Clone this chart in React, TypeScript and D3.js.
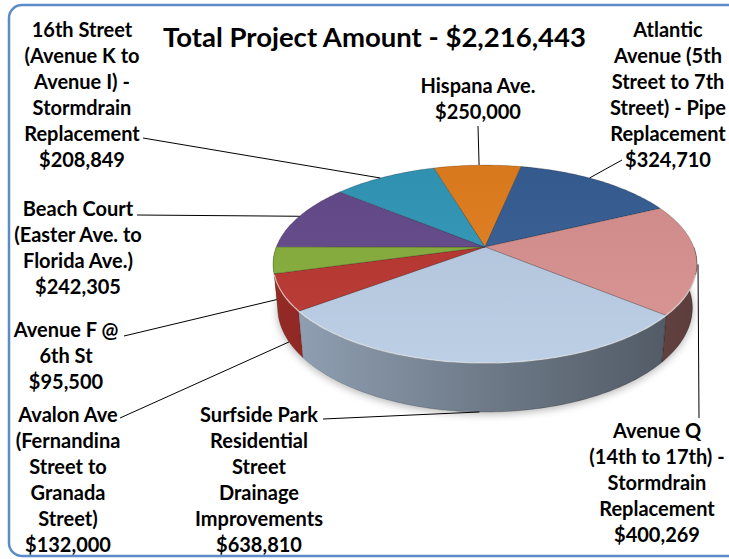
import React from "react";
import * as d3 from "d3";

// ---------- data ----------
const categories = [
  "Hispana Ave.",
  "Atlantic Avenue (5th Street to 7th Street) - Pipe Replacement",
  "Avenue Q (14th to 17th) - Stormdrain Replacement",
  "Surfside Park Residential Street Drainage Improvements",
  "Avalon Ave (Fernandina Street to Granada Street)",
  "Avenue F @ 6th St",
  "Beach Court (Easter Ave. to Florida Ave.)",
  "16th Street (Avenue K to Avenue I) - Stormdrain Replacement",
];
const labelLines = [
  ["Hispana Ave."],
  ["Atlantic", "Avenue (5th", "Street to 7th", "Street) - Pipe", "Replacement"],
  ["Avenue Q", "(14th to 17th) -", "Stormdrain", "Replacement"],
  ["Surfside Park", "Residential", "Street", "Drainage", "Improvements"],
  ["Avalon Ave", "(Fernandina", "Street to", "Granada", "Street)"],
  ["Avenue F @", "6th St"],
  ["Beach Court", "(Easter Ave. to", "Florida Ave.)"],
  ["16th Street", "(Avenue K to", "Avenue I) -", "Stormdrain", "Replacement"],
];
// amounts printed in the labels
const labelValues = [250000, 324710, 400269, 638810, 132000, 95500, 242305, 208849];
// amounts as drawn by the slices (the Hispana slice is drawn smaller than its label; slices sum to the total)
const sliceValues = [174000, 324710, 400269, 638810, 132000, 95500, 242305, 208849];
const totalAmount = 2216443;
const titlePrefix = "Total Project Amount - ";

// ---------- styles ----------
const sliceColors = ["#E6801F", "#375F96", "#D8918F", "#B8CCE4", "#BA342F", "#86AE3A", "#654A8D", "#3299BA"];

// label layout: text centre / first baseline, leader start, anchor position in slice
const labelLayout = [
  { x: 478, y: 93, sx: 478, sy: 126, frac: 0.52, level: 0 },
  { x: 668, y: 37, sx: 622, sy: 160, frac: 0.44, level: 0 },
  { x: 657, y: 438, sx: 699, sy: 418, frac: 0.55, level: 0 },
  { x: 259, y: 422, sx: 323, sy: 419, frac: 0.5, level: 1 },
  { x: 68, y: 422, sx: 120, sy: 418, frac: 0.41, level: 1 },
  { x: 66, y: 337, sx: 124, sy: 336, frac: 0.35, level: 0.8 },
  { x: 78, y: 216, sx: 137, sy: 215, frac: 0.5, level: 0 },
  { x: 82, y: 37, sx: 143, sy: 138, frac: 0.46, level: 0 },
];

const W = 729;
const H = 559;
// perspective camera
const CX = 485;
const CY = 247;
const FOC = 1077;
const DIST = 5.16;
const SIN_T = 0.46;
const COS_T = 0.888;
const DEPTH = 0.238;
const START = (-16.6 * Math.PI) / 180;
const LINE_H = 25.9;
const FONT = "Lato, 'Open Sans', sans-serif";

function proj(theta: number, y: number): [number, number] {
  const X = Math.cos(theta);
  const Z = Math.sin(theta);
  const d = DIST - Z * COS_T - y * SIN_T;
  return [CX + (FOC * X) / d, CY + (FOC * (Z * SIN_T - y * COS_T)) / d];
}

function arcPoints(t0: number, t1: number, y: number): [number, number][] {
  const n = Math.max(2, Math.ceil(Math.abs(t1 - t0) / (Math.PI / 180)));
  return d3.range(n + 1).map((i) => proj(t0 + ((t1 - t0) * i) / n, y));
}

const fmt = d3.format("$,");
const line = d3.line();

export default function App() {
  const pie = d3
    .pie<number>()
    .sort(null)
    .startAngle(START)
    .endAngle(START + 2 * Math.PI);
  const arcs = pie(sliceValues).map((a, i) => ({
    i,
    t0: a.startAngle - Math.PI / 2,
    t1: a.endAngle - Math.PI / 2,
  }));

  const walls = arcs
    .map((a) => ({ ...a, lo: Math.max(a.t0, 0), hi: Math.min(a.t1, Math.PI) }))
    .filter((a) => a.hi > a.lo)
    .sort(
      (a, b) =>
        Math.abs((b.lo + b.hi) / 2 - Math.PI / 2) - Math.abs((a.lo + a.hi) / 2 - Math.PI / 2)
    );

  const bottomRim = arcPoints(0, 2 * Math.PI, -DEPTH);
  const highlight = arcPoints((16 * Math.PI) / 180, (164 * Math.PI) / 180, 0);

  return (
    <svg
      width={W}
      height={H}
      style={{ position: "absolute", left: 0, top: 0 }}
      fontFamily={FONT}
    >
      <defs>
        <linearGradient id="wallShade" gradientUnits="userSpaceOnUse" x1={272} y1={0} x2={697} y2={0}>
          <stop offset="0" stopColor="#000" stopOpacity={0.2} />
          <stop offset="0.5" stopColor="#000" stopOpacity={0.4} />
          <stop offset="1" stopColor="#000" stopOpacity={0.58} />
        </linearGradient>
        <linearGradient id="topShade" gradientUnits="userSpaceOnUse" x1={0} y1={165} x2={0} y2={365}>
          <stop offset="0" stopColor="#000" stopOpacity={0.06} />
          <stop offset="1" stopColor="#fff" stopOpacity={0.06} />
        </linearGradient>
        <filter id="blur" x="-20%" y="-20%" width="140%" height="140%">
          <feGaussianBlur stdDeviation={4} />
        </filter>
      </defs>
      <rect x={9} y={5} width={740} height={551} rx={13} fill="#fff" stroke="#5B8BC9" strokeWidth={2.5} />

      {/* shadow */}
      <path
        d={line(bottomRim.map(([x, y]) => [x, y + 2]) as [number, number][]) + "Z"}
        fill="#000"
        opacity={0.3}
        filter="url(#blur)"
      />

      {/* side walls */}
      {walls.map((w) => {
        const pts = [...arcPoints(w.lo, w.hi, 0), ...arcPoints(w.hi, w.lo, -DEPTH)];
        const d = line(pts) + "Z";
        return (
          <g key={"w" + w.i}>
            <path d={d} fill={sliceColors[w.i]} />
            <path d={d} fill="url(#wallShade)" stroke="url(#wallShade)" strokeWidth={0.5} />
          </g>
        );
      })}

      {/* top faces */}
      {arcs.map((a) => {
        const pts = [[CX, CY] as [number, number], ...arcPoints(a.t0, a.t1, 0)];
        const d = line(pts) + "Z";
        return (
          <g key={"t" + a.i}>
            <path d={d} fill={sliceColors[a.i]} />
            <path d={d} fill="url(#topShade)" stroke="rgba(0,0,0,0.25)" strokeWidth={0.8} strokeLinejoin="round" />
          </g>
        );
      })}
      <path d={line(highlight) || ""} fill="none" stroke="#fff" strokeOpacity={0.65} strokeWidth={1.3} />

      {/* leader lines */}
      {arcs.map((a) => {
        const L = labelLayout[a.i];
        const t = a.t0 + (a.t1 - a.t0) * L.frac;
        const [ax, ay] = proj(t, -DEPTH * L.level);
        const end: [number, number] = a.i === 2 ? [L.sx - 1, ay] : [ax, ay];
        return (
          <path
            key={"l" + a.i}
            d={line([[L.sx, L.sy], end]) || ""}
            stroke="#000"
            strokeWidth={1}
            fill="none"
          />
        );
      })}

      {/* labels */}
      {arcs.map((a) => {
        const L = labelLayout[a.i];
        const lines = [...labelLines[a.i], fmt(labelValues[a.i])];
        return (
          <text
            key={"x" + a.i}
            x={L.x}
            y={L.y}
            textAnchor="middle"
            fontSize={20}
            fontWeight="bold"
            fill="#000"
          >
            {lines.map((s, k) => (
              <tspan key={k} x={L.x} y={L.y + k * LINE_H}>
                {s}
              </tspan>
            ))}
          </text>
        );
      })}

      <text x={374.5} y={47} textAnchor="middle" fontSize={27.5} fontWeight="bold" fill="#000">
        {titlePrefix + fmt(totalAmount)}
      </text>
    </svg>
  );
}
